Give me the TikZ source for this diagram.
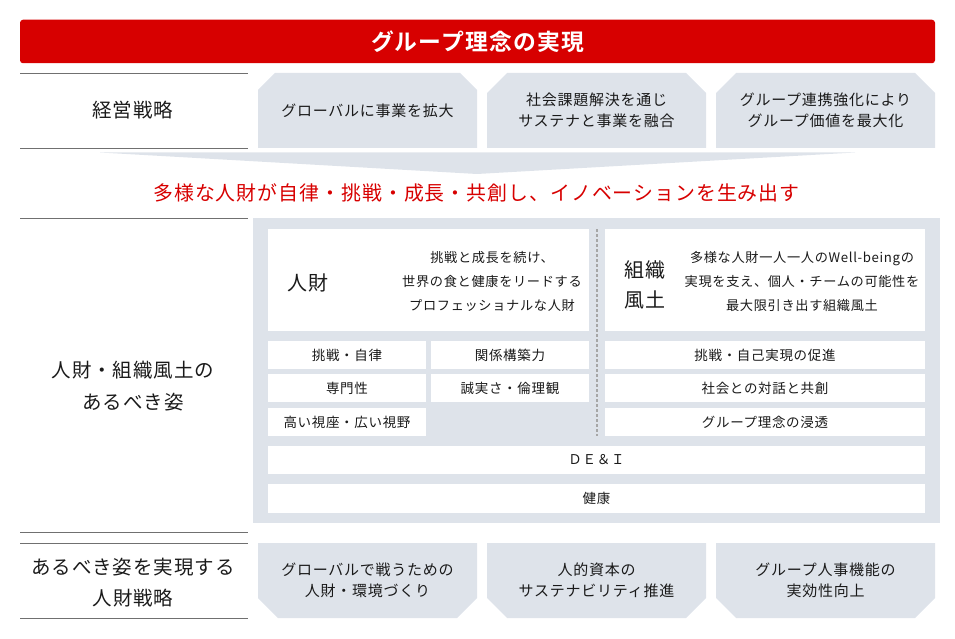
\documentclass[tikz,border=0pt]{standalone}
\usepackage{fontspec}
\setmainfont{Noto Sans CJK JP}
\newfontfamily\jp{Noto Sans CJK JP}[LetterSpace=5]
\newfontfamily\jpb{Noto Sans CJK JP Bold}[LetterSpace=5]
\usetikzlibrary{shapes.misc}
\definecolor{hdrred}{HTML}{D70000}
\definecolor{boxfill}{HTML}{DEE3EA}
\definecolor{rulegray}{HTML}{707070}
\definecolor{txt}{HTML}{1A1A1A}
\tikzset{
  hdr/.style={fill=hdrred, rounded corners=3pt, minimum width=915pt, minimum height=43.5pt, inner sep=0pt, text=white, font=\jpb\fontsize{22.8}{26}\selectfont},
  rowlabel/.style={text=txt, align=center, font=\jp\fontsize{19.5}{31.5}\selectfont},
  topbox/.style={chamfered rectangle, chamfered rectangle corners={north west, north east}, chamfered rectangle xsep=10pt, chamfered rectangle ysep=10pt, fill=boxfill, minimum width=219pt, minimum height=75pt, inner sep=0pt, text=txt, align=center, font=\jp\fontsize{15}{21}\selectfont},
  botbox/.style={topbox, chamfered rectangle corners={south west, south east}},
  hrule/.style={draw=rulegray, line width=0.8pt},
  wbox/.style={fill=white, inner sep=0pt, text=txt, font=\jp\fontsize{13.5}{16}\selectfont},
  desc/.style={text=txt, align=center, font=\jp\fontsize{13.2}{24}\selectfont},
  big/.style={text=txt, align=center, font=\jp\fontsize{20}{30}\selectfont},
}
\begin{document}
\begin{tikzpicture}[x=1pt,y=-1pt]
\useasboundingbox (0,0) rectangle (955,639);
% header
\node[hdr] (hdr) at (477.5,41.5) {グループ理念の実現};
% row 1
\draw[hrule] (20,73) coordinate (r1a) -- (248,73) coordinate (r1b);
\draw[hrule] (20,148) coordinate (r1c) -- (248,148) coordinate (r1d);
\node[rowlabel] (lbl1) at (133,110.5) {経営戦略};
\node[topbox] (s1) at (367.5,110.5) {グローバルに事業を拡大};
\node[topbox] (s2) at (596.5,110.5) {社会課題解決を通じ\\サステナと事業を融合};
\node[topbox] (s3) at (825.5,110.5) {グループ連携強化により\\グループ価値を最大化};
% funnel
\fill[boxfill] (100,152.5) coordinate (f1) -- (855,152.5) coordinate (f2) -- (477,174) coordinate (f3) -- cycle;
% red message
\node[text=hdrred, font=\jp\fontsize{19.9}{24}\selectfont] (msg) at (476.5,193) {多様な人財が自律・挑戦・成長・共創し、イノベーションを生み出す};
% middle section
\draw[hrule] (20,218) coordinate (r2a) -- (248,218) coordinate (r2b);
\draw[hrule] (20,532) coordinate (r2c) -- (248,532) coordinate (r2d);
\node[rowlabel] (lbl2) at (133,386) {人財・組織風土の\\あるべき姿};
\fill[boxfill] (253,218) coordinate (pa) rectangle (940,523) coordinate (pb);
% jinzai box
\node[wbox, minimum width=321pt, minimum height=102pt] (jz) at (428.5,280) {};
\node[big] (jzt) at (308,283) {人財};
\node[desc] (jzd) at (492,281.5) {挑戦と成長を続け、\\世界の食と健康をリードする\\プロフェッショナルな人財};
% soshiki box
\node[wbox, minimum width=320pt, minimum height=102pt] (sf) at (765,280) {};
\node[big] (sft) at (645,285) {組織\\風土};
\node[desc] (sfd) at (802,281.5) {多様な人財一人一人のWell-beingの\\実現を支え、個人・チームの可能性を\\最大限引き出す組織風土};
% small boxes left
\node[wbox, minimum width=158pt, minimum height=28pt] (a1) at (347,355) {挑戦・自律};
\node[wbox, minimum width=158pt, minimum height=28pt] (a2) at (510,355) {関係構築力};
\node[wbox, minimum width=158pt, minimum height=28pt] (a3) at (347,388) {専門性};
\node[wbox, minimum width=158pt, minimum height=28pt] (a4) at (510,388) {誠実さ・倫理観};
\node[wbox, minimum width=158pt, minimum height=28pt] (a5) at (347,422) {高い視座・広い視野};
% small boxes right
\node[wbox, minimum width=320pt, minimum height=28pt] (b1) at (765,355) {挑戦・自己実現の促進};
\node[wbox, minimum width=320pt, minimum height=28pt] (b2) at (765,388) {社会との対話と共創};
\node[wbox, minimum width=320pt, minimum height=28pt] (b3) at (765,422) {グループ理念の浸透};
% dashed divider
\draw[draw=black!35, line width=1.4pt, dash pattern=on 3pt off 2pt] (597,229) coordinate (d1) -- (597,436) coordinate (d2);
% full rows
\node[wbox, minimum width=657pt, minimum height=28pt] (dei) at (596.5,460) {ＤＥ＆Ｉ};
\node[wbox, minimum width=657pt, minimum height=29pt] (kk) at (596.5,498.5) {健康};
% bottom row
\draw[hrule] (20,543) coordinate (r3a) -- (248,543) coordinate (r3b);
\draw[hrule] (20,618) coordinate (r3c) -- (248,618) coordinate (r3d);
\node[rowlabel] (lbl3) at (133,582.5) {あるべき姿を実現する\\人財戦略};
\node[botbox] (t1) at (367.5,580.5) {グローバルで戦うための\\人財・環境づくり};
\node[botbox] (t2) at (596.5,580.5) {人的資本の\\サステナビリティ推進};
\node[botbox] (t3) at (825.5,580.5) {グループ人事機能の\\実効性向上};
\end{tikzpicture}
\end{document}
